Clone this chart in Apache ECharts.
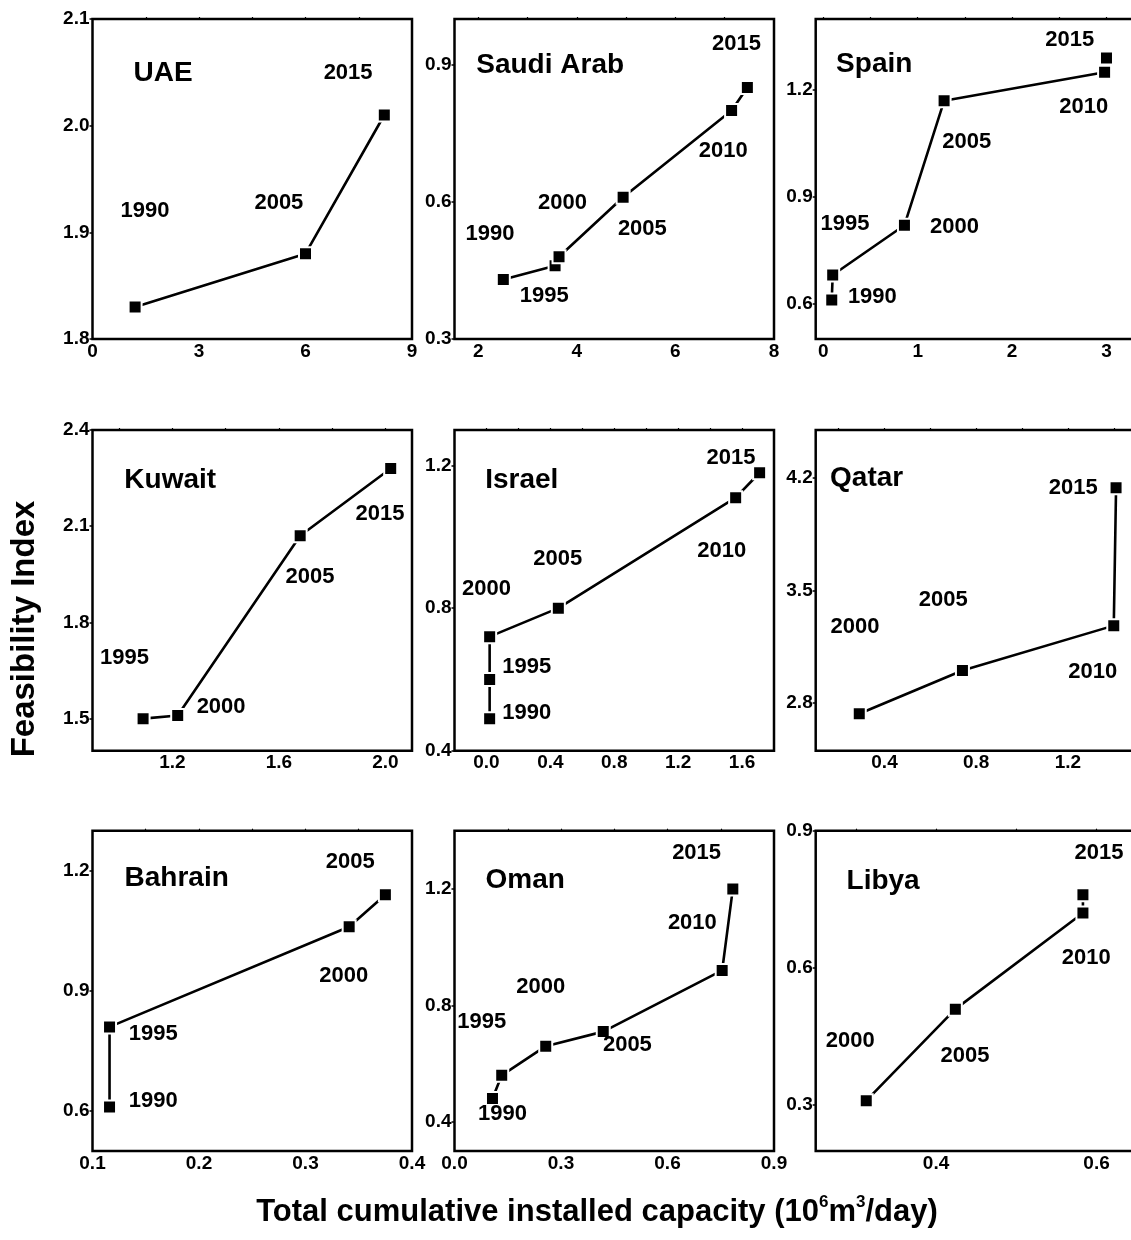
<!DOCTYPE html>
<html>
<head>
<meta charset="utf-8">
<script src="https://cdn.jsdelivr.net/npm/echarts@6/dist/echarts.min.js"></script>
<style>
  html, body { margin: 0; padding: 0; background: #fff; }
  #chart { width: 1131px; height: 1240px; }
</style>
</head>
<body>
<div id="chart"></div>
<script>
// ---- Data: cumulative installed capacity (10^6 m3/day) vs feasibility index ----
const uaeYears = ['1990', '2005', '2015'];
const uaeCapacity = [1.2, 6.0, 8.22];
const uaeIndex = [1.83, 1.88, 2.01];

const saudiYears = ['1990', '1995', '2000', '2005', '2010', '2015'];
const saudiCapacity = [2.51, 3.56, 3.64, 4.94, 7.14, 7.46];
const saudiIndex = [0.43, 0.46, 0.48, 0.61, 0.80, 0.85];

const spainYears = ['1990', '1995', '2000', '2005', '2010', '2015'];
const spainCapacity = [0.09, 0.1, 0.86, 1.28, 2.98, 3.0];
const spainIndex = [0.61, 0.68, 0.82, 1.17, 1.25, 1.29];

const kuwaitYears = ['1995', '2000', '2005', '2015'];
const kuwaitCapacity = [1.09, 1.22, 1.68, 2.02];
const kuwaitIndex = [1.50, 1.51, 2.07, 2.28];

const israelYears = ['1990', '1995', '2000', '2005', '2010', '2015'];
const israelCapacity = [0.02, 0.02, 0.02, 0.45, 1.56, 1.71];
const israelIndex = [0.49, 0.60, 0.72, 0.80, 1.11, 1.18];

const qatarYears = ['2000', '2005', '2010', '2015'];
const qatarCapacity = [0.29, 0.74, 1.40, 1.41];
const qatarIndex = [2.73, 3.00, 3.28, 4.14];

const bahrainYears = ['1990', '1995', '2000', '2005'];
const bahrainCapacity = [0.116, 0.116, 0.341, 0.375];
const bahrainIndex = [0.61, 0.81, 1.06, 1.14];

const omanYears = ['1990', '1995', '2000', '2005', '2010', '2015'];
const omanCapacity = [0.107, 0.133, 0.257, 0.419, 0.754, 0.784];
const omanIndex = [0.48, 0.56, 0.66, 0.71, 0.92, 1.20];

const libyaYears = ['2000', '2005', '2010', '2015'];
const libyaCapacity = [0.313, 0.424, 0.583, 0.583];
const libyaIndex = [0.31, 0.51, 0.72, 0.76];

// ---- Tick labels per panel ----
const uaeXTicks = ['0', '3', '6', '9'];           const uaeYTicks = ['1.8', '1.9', '2.0', '2.1'];
const saudiXTicks = ['2', '4', '6', '8'];         const saudiYTicks = ['0.3', '0.6', '0.9'];
const spainXTicks = ['0', '1', '2', '3'];         const spainYTicks = ['0.6', '0.9', '1.2'];
const kuwaitXTicks = ['1.2', '1.6', '2.0'];       const kuwaitYTicks = ['1.5', '1.8', '2.1', '2.4'];
const israelXTicks = ['0.0', '0.4', '0.8', '1.2', '1.6']; const israelYTicks = ['0.4', '0.8', '1.2'];
const qatarXTicks = ['0.4', '0.8', '1.2'];        const qatarYTicks = ['2.8', '3.5', '4.2'];
const bahrainXTicks = ['0.1', '0.2', '0.3', '0.4']; const bahrainYTicks = ['0.6', '0.9', '1.2'];
const omanXTicks = ['0.0', '0.3', '0.6', '0.9'];  const omanYTicks = ['0.4', '0.8', '1.2'];
const libyaXTicks = ['0.4', '0.6'];               const libyaYTicks = ['0.3', '0.6', '0.9'];

// ---- Panel layout: axis extents, name and year-label anchors (data units) ----
const panels = [
  { name: 'UAE', years: uaeYears, x: uaeCapacity, y: uaeIndex, xTicks: uaeXTicks, yTicks: uaeYTicks,
    xRange: [0, 9], yRange: [1.8, 2.1], nameAt: [1.99, 2.049],
    yearAt: [[1.48, 1.92], [5.25, 1.928], [7.2, 2.049]] },
  { name: 'Saudi Arab', years: saudiYears, x: saudiCapacity, y: saudiIndex, xTicks: saudiXTicks, yTicks: saudiYTicks,
    xRange: [1.52, 8], yRange: [0.3, 1.0], nameAt: [3.46, 0.899],
    yearAt: [[2.24, 0.529], [3.34, 0.394], [3.71, 0.597], [5.33, 0.54], [6.97, 0.712], [7.24, 0.945]] },
  { name: 'Spain', years: spainYears, x: spainCapacity, y: spainIndex, xTicks: spainXTicks, yTicks: spainYTicks,
    xRange: [-0.08, 3.32], yRange: [0.5, 1.4], nameAt: [0.54, 1.273],
    yearAt: [[0.52, 0.619], [0.23, 0.825], [1.39, 0.816], [1.52, 1.055], [2.76, 1.152], [2.61, 1.341]] },
  { name: 'Kuwait', years: kuwaitYears, x: kuwaitCapacity, y: kuwaitIndex, xTicks: kuwaitXTicks, yTicks: kuwaitYTicks,
    xRange: [0.9, 2.1], yRange: [1.4, 2.4], nameAt: [1.192, 2.244],
    yearAt: [[1.02, 1.688], [1.383, 1.537], [1.717, 1.943], [1.98, 2.138]] },
  { name: 'Israel', years: israelYears, x: israelCapacity, y: israelIndex, xTicks: israelXTicks, yTicks: israelYTicks,
    xRange: [-0.2, 1.8], yRange: [0.4, 1.3], nameAt: [0.221, 1.16],
    yearAt: [[0.252, 0.507], [0.252, 0.636], [0.0, 0.854], [0.446, 0.938], [1.473, 0.961], [1.531, 1.222]] },
  { name: 'Qatar', years: qatarYears, x: qatarCapacity, y: qatarIndex, xTicks: qatarXTicks, yTicks: qatarYTicks,
    xRange: [0.1, 1.5], yRange: [2.5, 4.5], nameAt: [0.322, 4.199],
    yearAt: [[0.271, 3.273], [0.656, 3.44], [1.308, 2.989], [1.223, 4.136]] },
  { name: 'Bahrain', years: bahrainYears, x: bahrainCapacity, y: bahrainIndex, xTicks: bahrainXTicks, yTicks: bahrainYTicks,
    xRange: [0.1, 0.4], yRange: [0.5, 1.3], nameAt: [0.179, 1.18],
    yearAt: [[0.157, 0.626], [0.157, 0.792], [0.336, 0.938], [0.342, 1.223]] },
  { name: 'Oman', years: omanYears, x: omanCapacity, y: omanIndex, xTicks: omanXTicks, yTicks: omanYTicks,
    xRange: [0, 0.9], yRange: [0.3, 1.4], nameAt: [0.199, 1.231],
    yearAt: [[0.135, 0.426], [0.077, 0.743], [0.243, 0.862], [0.487, 0.663], [0.67, 1.082], [0.682, 1.322]] },
  { name: 'Libya', years: libyaYears, x: libyaCapacity, y: libyaIndex, xTicks: libyaXTicks, yTicks: libyaYTicks,
    xRange: [0.25, 0.65], yRange: [0.2, 0.9], nameAt: [0.334, 0.79],
    yearAt: [[0.293, 0.44], [0.436, 0.408], [0.587, 0.621], [0.603, 0.851]] }
];

const colLeft = [92.5, 454.5, 815.7];
const colWidth = [319.5, 319.5, 321];
const rowTop = [19, 430, 830.7];
const rowHeight = [320, 320.7, 320.3];

const FONT = "'Liberation Sans', Arial, Helvetica, sans-serif";
const tickText = { fontSize: 19, fontWeight: 'bold', fontFamily: FONT, color: '#000' };

function labelFormatter(ticks) {
  return function (v) {
    const hit = ticks.find(t => Math.abs(parseFloat(t) - v) < 1e-6);
    return hit === undefined ? '' : hit;
  };
}

// small marks along the top frame at half the labelled step
function halfSteps(ticks, range) {
  const vals = ticks.map(parseFloat);
  const step = vals.length > 1 ? (vals[1] - vals[0]) / 2 : 0.1;
  const out = [];
  const start = Math.ceil((range[0] - 1e-9) / step);
  for (let k = start; k * step <= range[1] + 1e-9; k++) {
    const v = +(k * step).toFixed(6);
    if (v > range[0] + 1e-9 && v < range[1] - 1e-9) out.push(v);
  }
  return out;
}

const grids = [], xAxes = [], yAxes = [], series = [];

panels.forEach((p, i) => {
  const col = i % 3, row = Math.floor(i / 3);
  grids.push({
    left: colLeft[col], top: rowTop[row], width: colWidth[col], height: rowHeight[row],
    show: true, borderColor: '#000', borderWidth: 2.5, backgroundColor: 'transparent',
    containLabel: false, outerBoundsMode: 'none'
  });
  const xVals = p.xTicks.map(parseFloat);
  const yVals = p.yTicks.map(parseFloat);

  xAxes.push({
    type: 'value', gridIndex: i, position: 'bottom', min: p.xRange[0], max: p.xRange[1],
    axisLine: { show: false, onZero: false }, splitLine: { show: false },
    axisTick: { show: false },
    axisLabel: Object.assign({ customValues: xVals, formatter: labelFormatter(p.xTicks), margin: 3,
      showMinLabel: true, showMaxLabel: true, hideOverlap: false }, tickText)
  });
  xAxes.push({
    type: 'value', gridIndex: i, position: 'top', min: p.xRange[0], max: p.xRange[1],
    axisLine: { show: false, onZero: false }, splitLine: { show: false }, axisLabel: { show: false },
    axisTick: { show: true, inside: false, length: 2, customValues: halfSteps(p.xTicks, p.xRange),
      lineStyle: { color: '#000', width: 1.2 } }
  });
  yAxes.push({
    type: 'value', gridIndex: i, position: 'left', min: p.yRange[0], max: p.yRange[1],
    axisLine: { show: false, onZero: false }, splitLine: { show: false },
    axisTick: { show: true, inside: false, length: 3, customValues: yVals,
      lineStyle: { color: '#000', width: 1.5 } },
    axisLabel: Object.assign({ customValues: yVals, formatter: labelFormatter(p.yTicks), margin: 3,
      showMinLabel: true, showMaxLabel: true, hideOverlap: false }, tickText)
  });

  // trajectory through the years
  series.push({
    type: 'line', xAxisIndex: 2 * i, yAxisIndex: i,
    data: p.x.map((xv, k) => ({ value: [xv, p.y[k]], name: p.years[k] })),
    symbol: 'rect', symbolSize: 13, showSymbol: true,
    itemStyle: { color: '#000', borderColor: '#fff', borderWidth: 2 },
    lineStyle: { color: '#000', width: 2.6 },
    silent: true, z: 3
  });

  // country name and year annotations
  const notes = [{ value: p.nameAt, name: p.name, label: { fontSize: 28 } }];
  p.yearAt.forEach((pos, k) => notes.push({ value: pos, name: p.years[k] }));
  series.push({
    type: 'scatter', xAxisIndex: 2 * i, yAxisIndex: i,
    data: notes, symbolSize: 0, itemStyle: { color: '#000', opacity: 1 },
    label: { show: true, position: 'inside', formatter: '{b}', fontSize: 22, fontWeight: 'bold',
      fontFamily: FONT, color: '#000', opacity: 1, textBorderWidth: 0 },
    labelLayout: { hideOverlap: false },
    silent: true, z: 4
  });
});

const chart = echarts.init(document.getElementById('chart'), null, { renderer: 'canvas' });
chart.setOption({
  backgroundColor: '#fff',
  animation: false,
  grid: grids,
  xAxis: xAxes,
  yAxis: yAxes,
  series: series,
  graphic: [
    {
      type: 'text', x: 25, y: 629, rotation: Math.PI / 2,
      style: { text: 'Feasibility Index', fontSize: 33, fontWeight: 'bold', fontFamily: FONT,
        fill: '#000', align: 'center', verticalAlign: 'middle' }
    },
    {
      type: 'text', x: 597, y: 1212,
      style: {
        text: '{m|Total cumulative installed capacity (10}{s|6}{m|m}{s|3}{m|/day)}',
        align: 'center', verticalAlign: 'middle', fill: '#000',
        rich: {
          m: { fontSize: 31, fontWeight: 'bold', fontFamily: FONT, lineHeight: 36, verticalAlign: 'middle', fill: '#000' },
          s: { fontSize: 17, fontWeight: 'bold', fontFamily: FONT, lineHeight: 36, verticalAlign: 'top', fill: '#000' }
        }
      }
    }
  ]
});
</script>
</body>
</html>
